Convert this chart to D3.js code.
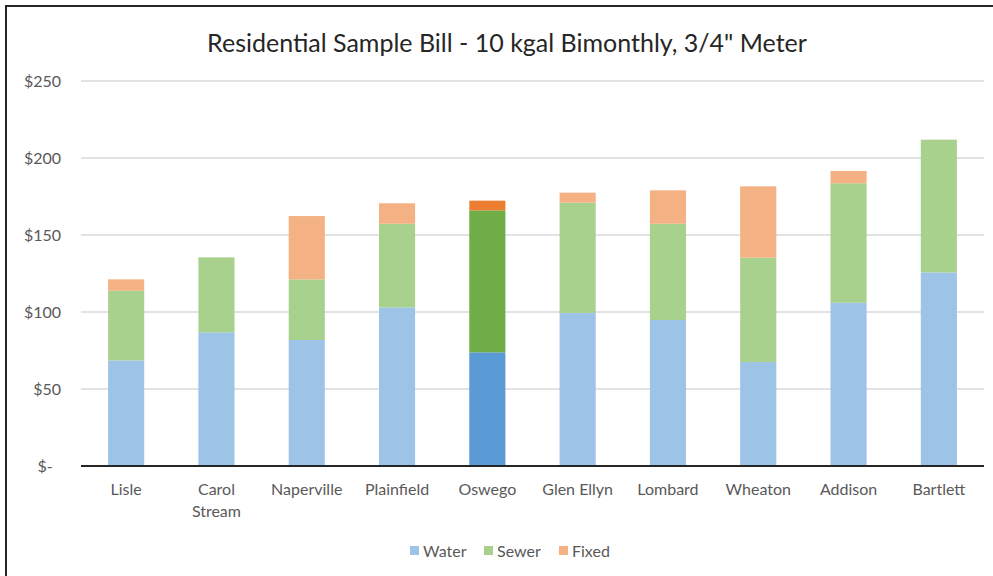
<!DOCTYPE html>
<html>
<head>
<meta charset="utf-8">
<script src="https://cdn.jsdelivr.net/npm/d3@7"></script>
<style>
  html, body { margin: 0; padding: 0; background: #fff; }
  svg { display: block; font-family: Lato, "Open Sans", sans-serif; }
</style>
</head>
<body>
<svg id="chart" width="993" height="576"></svg>
<script>
// Residential sample bill by community, stacked by charge component
const cities = ["Lisle", "Carol Stream", "Naperville", "Plainfield", "Oswego",
                "Glen Ellyn", "Lombard", "Wheaton", "Addison", "Bartlett"];
const water = [68.6, 86.8, 81.8, 103.0, 73.8, 99.4, 94.8, 67.5, 106.0, 125.7];
const sewer = [45.2, 48.7, 39.4, 54.3, 92.2, 71.6, 62.5, 67.8, 77.6, 86.2];
const fixed = [7.4, 0, 41.1, 13.3, 6.3, 6.5, 21.7, 46.3, 8.0, 0];
const seriesNames = ["Water", "Sewer", "Fixed"];
const yTicks = [0, 50, 100, 150, 200, 250];
const highlightCity = "Oswego";

const baseColors = { Water: "#9DC3E6", Sewer: "#A9D18E", Fixed: "#F4B183" };
const highlightColors = { Water: "#5B9BD5", Sewer: "#70AD47", Fixed: "#ED7D31" };

const rows = cities.map((c, i) => ({ city: c, Water: water[i], Sewer: sewer[i], Fixed: fixed[i] }));
const stacked = d3.stack().keys(seriesNames)(rows);

const svg = d3.select("#chart");

// chart frame (top and left edges)
svg.append("path")
  .attr("d", "M6,576 V6 H993")
  .attr("fill", "none")
  .attr("stroke", "#262626")
  .attr("stroke-width", 2);

const plot = { left: 81, right: 984, top: 81, bottom: 466 };

const x = d3.scaleBand().domain(cities).range([plot.left, plot.right]).paddingInner(0.6).paddingOuter(0.3);
const y = d3.scaleLinear().domain([0, 250]).range([plot.bottom, plot.top]);

// title
svg.append("text")
  .attr("x", 507).attr("y", 52)
  .attr("text-anchor", "middle")
  .attr("font-size", 25)
  .attr("fill", "#262626")
  .text('Residential Sample Bill - 10 kgal Bimonthly, 3/4" Meter');

// gridlines
svg.append("g")
  .selectAll("line")
  .data(yTicks.filter(t => t > 0))
  .join("line")
  .attr("x1", plot.left).attr("x2", plot.right)
  .attr("y1", d => y(d)).attr("y2", d => y(d))
  .attr("stroke", "#d9d9d9").attr("stroke-width", 1.5);

// y axis labels
const yAxis = d3.axisLeft(y).tickValues(yTicks).tickSize(0).tickPadding(0)
  .tickFormat(d => d === 0 ? "$-  " : "$" + d);
const yg = svg.append("g").attr("transform", `translate(${plot.left - 20},0)`).call(yAxis);
yg.select(".domain").remove();
yg.selectAll("text").attr("font-size", 16).attr("fill", "#595959")
  .attr("font-family", "Lato, 'Open Sans', sans-serif").attr("dy", "0.35em")
  .style("white-space", "pre");

// bars
svg.append("g")
  .selectAll("g")
  .data(stacked)
  .join("g")
  .each(function(layer) {
    d3.select(this).selectAll("rect")
      .data(layer.filter(d => d[1] - d[0] > 0))
      .join("rect")
      .attr("x", d => x(d.data.city))
      .attr("width", x.bandwidth())
      .attr("y", d => y(d[1]))
      .attr("height", d => y(d[0]) - y(d[1]))
      .attr("fill", d => (d.data.city === highlightCity ? highlightColors : baseColors)[layer.key]);
  });

// x axis baseline
svg.append("line")
  .attr("x1", plot.left).attr("x2", plot.right)
  .attr("y1", plot.bottom).attr("y2", plot.bottom)
  .attr("stroke", "#262626").attr("stroke-width", 2);

// category labels ("Carol Stream" wraps onto two lines)
const xLabels = svg.append("g");
cities.forEach(c => {
  const lines = c === "Carol Stream" ? c.split(" ") : [c];
  const t = xLabels.append("text")
    .attr("x", x(c) + x.bandwidth() / 2)
    .attr("y", 495)
    .attr("text-anchor", "middle")
    .attr("font-size", 16)
    .attr("fill", "#595959");
  lines.forEach((ln, i) => {
    t.append("tspan").attr("x", x(c) + x.bandwidth() / 2).attr("dy", i === 0 ? 0 : 22).text(ln);
  });
});

// legend
const legendItems = [
  { name: "Water", x: 410 },
  { name: "Sewer", x: 484 },
  { name: "Fixed", x: 559 }
];
const lg = svg.append("g");
legendItems.forEach(it => {
  lg.append("rect").attr("x", it.x).attr("y", 546).attr("width", 9).attr("height", 9)
    .attr("fill", baseColors[it.name]);
  lg.append("text").attr("x", it.x + 13).attr("y", 556.5)
    .attr("font-size", 16).attr("fill", "#595959").text(it.name);
});
</script>
</body>
</html>
